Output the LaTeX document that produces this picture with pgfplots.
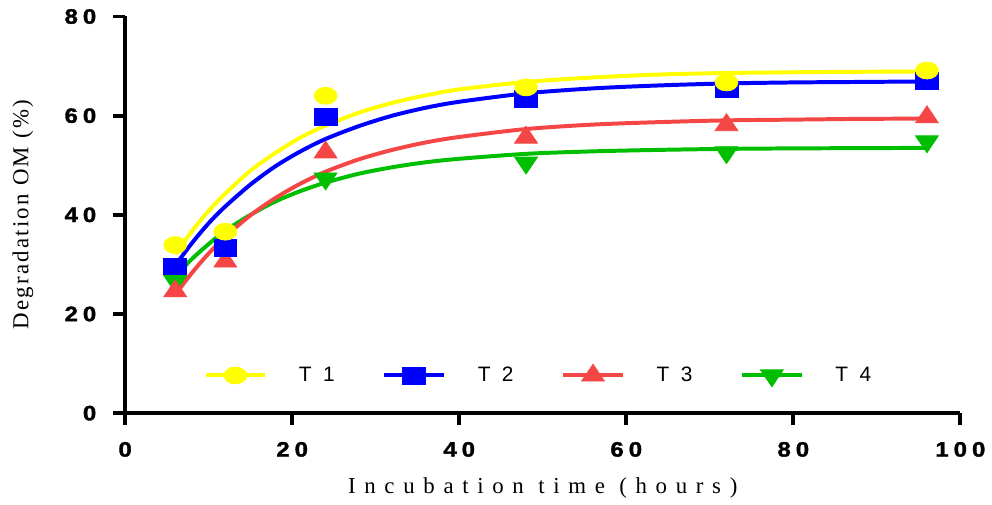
\documentclass[border=0pt]{standalone}
\usepackage{fontspec}
\usepackage{pgfplots}
\pgfplotsset{compat=1.18}
\setmainfont{Liberation Serif}
\newfontfamily\tickfont[LetterSpace=24,FakeStretch=1.15,FakeBold=1.6]{Liberation Sans Bold}
\newfontfamily\labfont[LetterSpace=38]{Liberation Serif}
\newfontfamily\ylabfont[LetterSpace=10]{Liberation Serif}
\newfontfamily\legfont[LetterSpace=55]{Liberation Sans}
\definecolor{cyel}{RGB}{255,255,0}
\definecolor{cblu}{RGB}{0,0,255}
\definecolor{cred}{RGB}{245,70,70}
\definecolor{cgrn}{RGB}{0,190,0}
\pgfplotsset{
  legline/.style={legend image code/.code={
    \draw[line width=2pt,#1] (0pt,0pt) -- (30pt,0pt);
    \draw[#1,only marks] plot coordinates {(15pt,0pt)};}},
}
\begin{document}
\begin{tikzpicture}
\begin{axis}[
  scale only axis, width=420.5pt, height=199.7pt,
  xmin=0, xmax=100, ymin=0, ymax=80,
  axis x line=bottom, axis y line=left,
  axis line style={line width=2pt, -},
  every tick/.style={line width=2pt, black},
  tick align=outside, major tick length=6pt,
  xtick={0,20,...,100}, ytick={0,20,...,80},
  minor tick num=0,
  /pgf/number format/assume math mode=true,
  ticklabel style={font=\tickfont\fontsize{10.5}{11}\selectfont},
  xticklabel style={yshift=-5pt},
  yticklabel style={xshift=-5pt},
  xlabel={Incubation time (hours)},
  ylabel={Degradation OM (\%)},
  xlabel style={font=\labfont\fontsize{11.5}{12}\selectfont, at={(axis description cs:0.5,0)}, yshift=-37.5pt, anchor=center},
  ylabel style={font=\ylabfont\fontsize{11.5}{12}\selectfont, at={(axis description cs:-0.1225,0.5)}, anchor=center},
  clip=false,
  legend columns=4,
  reverse legend,
  legend style={draw=none, fill=none, at={(0.496,0.095)}, anchor=center,
    font=\legfont\fontsize{10.5}{12}\selectfont,
    /tikz/every odd column/.append style={column sep=14pt},
    /tikz/every even column/.append style={column sep=22pt}},
]
% fitted curves
\addplot[cgrn, line width=2pt, smooth, forget plot] coordinates {
(6,27.6)(8,31.1)(10,34.1)(12,36.8)(15,40.0)(18,42.7)(21,44.8)(24,46.5)(28,48.3)(32,49.6)(36,50.6)(40,51.3)(48,52.3)(56,52.8)(64,53.1)(72,53.3)(80,53.4)(88,53.45)(96,53.5)};
\addplot[cred, line width=2pt, smooth, forget plot] coordinates {
(6,23.9)(8,28.3)(10,32.2)(12,35.6)(15,39.9)(18,43.4)(21,46.3)(24,48.7)(28,51.2)(32,53.1)(36,54.6)(40,55.7)(48,57.3)(56,58.2)(64,58.7)(72,59.05)(80,59.2)(88,59.35)(96,59.4)};
\addplot[cblu, line width=2pt, smooth, forget plot] coordinates {
(6,29.8)(8,34.3)(10,38.3)(12,41.7)(15,46.1)(18,49.8)(21,52.8)(24,55.3)(28,57.9)(32,60.0)(36,61.6)(40,62.8)(48,64.5)(56,65.5)(64,66.1)(72,66.5)(80,66.7)(88,66.8)(96,66.9)};
\addplot[cyel, line width=2pt, smooth, forget plot] coordinates {
(6,32.0)(8,36.7)(10,40.8)(12,44.3)(15,48.9)(18,52.5)(21,55.6)(24,58.0)(28,60.6)(32,62.6)(36,64.1)(40,65.3)(48,66.8)(56,67.7)(64,68.3)(72,68.6)(80,68.75)(88,68.85)(96,68.9)};
% data points
\addplot[cgrn, legline, only marks, mark=triangle*, mark size=5.67pt, mark options={fill=cgrn, draw=none, rotate=180, xscale=1.17}] coordinates {
(6,26.6)(12,33.5)(24,47.3)(48,50.5)(72,52.6)(96,54.8)};
\addlegendentry{T4}
\addplot[cred, legline, only marks, mark=triangle*, mark size=5.67pt, mark options={fill=cred, draw=none, xscale=1.17}] coordinates {
(6,24.6)(12,30.6)(24,52.6)(48,55.6)(72,58.1)(96,59.7)};
\addlegendentry{T3}
\addplot[cblu, legline, only marks, mark=square*, mark size=4.25pt, mark options={fill=cblu, draw=none, xscale=1.35}] coordinates {
(6,29.6)(12,33.3)(24,59.7)(48,63.3)(72,65.3)(96,67.0)};
\addlegendentry{T2}
\addplot[cyel, legline, only marks, mark=*, mark size=4.25pt, mark options={fill=cyel, draw=none, xscale=1.35}] coordinates {
(6,33.9)(12,36.6)(24,64.0)(48,65.7)(72,66.7)(96,69.1)};
\addlegendentry{T1}
\coordinate (O) at (rel axis cs:0,0);
\end{axis}
\path (O) ++(-63pt,-43.5pt) rectangle ++(496pt,251.5pt);
\end{tikzpicture}
\end{document}
